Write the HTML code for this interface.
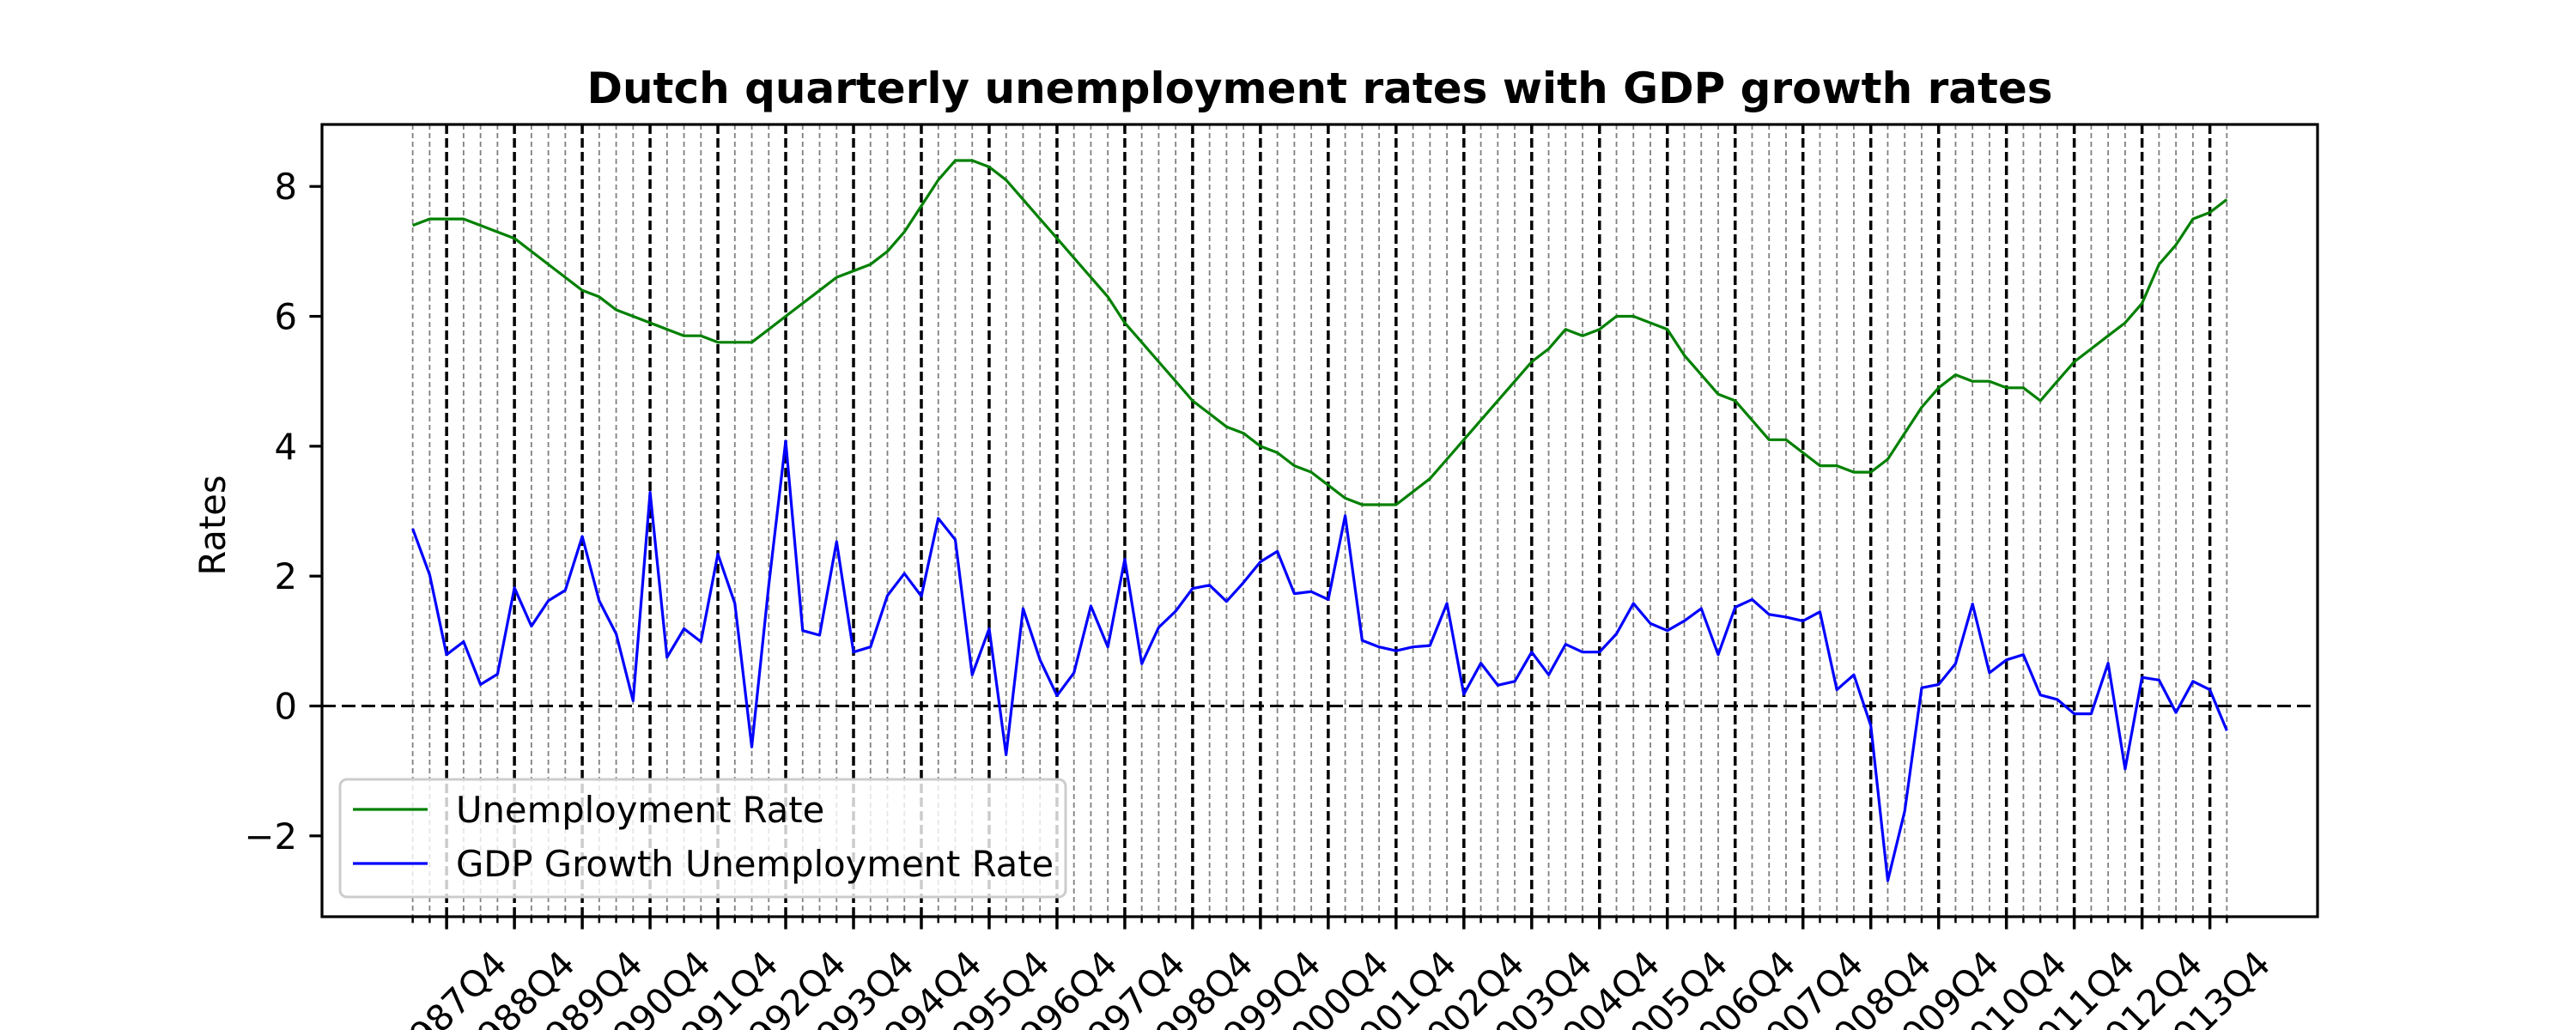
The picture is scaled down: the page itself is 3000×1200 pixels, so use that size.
<!DOCTYPE html>
<html><head><meta charset="utf-8"><style>
html,body{margin:0;padding:0;background:#fff;}
svg{display:block;font-family:"DejaVu Sans","Liberation Sans",sans-serif;}
</style></head><body>
<svg id="chart" width="3000" height="1200" viewBox="0 0 3000 1200" xmlns="http://www.w3.org/2000/svg">
<rect x="0" y="0" width="3000" height="1200" fill="#fff"/>
<text x="1537" y="120" font-size="50" font-weight="bold" text-anchor="middle">Dutch quarterly unemployment rates with GDP growth rates</text>
<text transform="translate(262,612) rotate(-90)" font-size="41.7" text-anchor="middle">Rates</text>
<g id="grid"></g>
<g id="series"></g>
<g id="axes"></g>
<g id="legend"></g>
</svg>
<script>
const startYear = 1987;
const startQuarter = 2;
const q4Labels = ["1987Q4","1988Q4","1989Q4","1990Q4","1991Q4","1992Q4","1993Q4","1994Q4","1995Q4","1996Q4","1997Q4","1998Q4","1999Q4","2000Q4","2001Q4","2002Q4","2003Q4","2004Q4","2005Q4","2006Q4","2007Q4","2008Q4","2009Q4","2010Q4","2011Q4","2012Q4","2013Q4"];
const yTicks = [-2,0,2,4,6,8];
const yTickLabels = ["\u22122","0","2","4","6","8"];
const unemploymentRate = [7.4,7.5,7.5,7.5,7.4,7.3,7.2,7.0,6.8,6.6,6.4,6.3,6.1,6.0,5.9,5.8,5.7,5.7,5.6,5.6,5.6,5.8,6.0,6.2,6.4,
6.6,6.7,6.8,7.0,7.3,7.7,8.1,8.4,8.4,8.3,8.1,7.8,7.5,7.2,6.9,6.6,6.3,5.9,5.6,5.3,5.0,4.7,4.5,4.3,4.2,4.0,3.9,3.7,3.6,3.4,
3.2,3.1,3.1,3.1,3.3,3.5,3.8,4.1,4.4,4.7,5.0,5.3,5.5,5.8,5.7,5.8,6.0,6.0,5.9,5.8,5.4,5.1,4.8,4.7,4.4,4.1,4.1,3.9,3.7,
3.7,3.6,3.6,3.8,4.2,4.6,4.9,5.1,5.0,5.0,4.9,4.9,4.7,5.0,5.3,5.5,5.7,5.9,6.2,6.8,7.1,7.5,7.6,7.8];
const gdpGrowth = [2.73,2.02,0.79,0.99,0.33,0.49,1.82,1.23,1.62,1.78,2.61,1.62,1.11,0.08,3.29,0.75,1.19,0.99,2.34,1.58,-0.63,1.86,4.08,1.16,1.09,
2.53,0.83,0.91,1.70,2.04,1.69,2.89,2.56,0.48,1.19,-0.75,1.50,0.71,0.16,0.51,1.54,0.91,2.26,0.65,1.21,1.46,1.81,1.86,1.61,1.90,2.22,2.38,1.73,1.76,1.64,
2.93,1.01,0.91,0.85,0.91,0.93,1.58,0.18,0.66,0.32,0.38,0.83,0.48,0.95,0.83,0.83,1.11,1.58,1.27,1.16,1.31,1.50,0.79,1.52,1.64,1.41,1.37,1.31,1.45,
0.25,0.48,-0.30,-2.69,-1.62,0.28,0.33,0.65,1.57,0.51,0.71,0.79,0.17,0.10,-0.12,-0.12,0.66,-0.97,0.44,0.40,-0.10,0.38,0.25,-0.38];

const NS = "http://www.w3.org/2000/svg";
const L = 375, R = 2699, T = 145, B = 1068;
const n = unemploymentRate.length;
const quarters = [];
for (let i = 0; i < n; i++) {
  const q = (startQuarter - 1 + i) % 4 + 1;
  const y = startYear + Math.floor((startQuarter - 1 + i) / 4);
  quarters.push(y + "Q" + q);
}
const xmin = -0.05 * (n - 1), xmax = (n - 1) * 1.05;
const allVals = unemploymentRate.concat(gdpGrowth);
const dmin = Math.min(...allVals), dmax = Math.max(...allVals);
const ymin = dmin - 0.05 * (dmax - dmin), ymax = dmax + 0.05 * (dmax - dmin);
function xs(i) { return L + (i - xmin) / (xmax - xmin) * (R - L); }
function ys(v) { return B - (v - ymin) / (ymax - ymin) * (B - T); }
function mk(tag, attrs, parent) {
  const e = document.createElementNS(NS, tag);
  for (const k in attrs) e.setAttribute(k, attrs[k]);
  parent.appendChild(e);
  return e;
}
const grid = document.getElementById("grid");
const series = document.getElementById("series");
const axes = document.getElementById("axes");
const legend = document.getElementById("legend");

quarters.forEach((q, i) => {
  const x = xs(i);
  const isQ4 = q.endsWith("Q4");
  const ln = mk("line", {x1: x, x2: x, y1: T, y2: B,
    stroke: isQ4 ? "#000" : "#808080", "stroke-width": isQ4 ? 3.5 : 1.8,
    "stroke-dasharray": isQ4 ? "11 5" : "6 4"}, grid);
  
  
});
const zl = mk("line", {x1: L, x2: R, y1: ys(0), y2: ys(0), stroke: "#000", "stroke-width": 3, "stroke-dasharray": "16 7"}, grid);



function poly(vals, color, name) {
  const p = mk("polyline", {points: vals.map((v, i) => xs(i).toFixed(1) + "," + ys(v).toFixed(1)).join(" "),
    fill: "none", stroke: color, "stroke-width": 3.2, "stroke-linejoin": "round"}, series);
  
  
}
poly(unemploymentRate, "#008000", "unemployment-line");
poly(gdpGrowth, "#0000ff", "gdp-growth-line");

const fr = mk("rect", {x: L, y: T, width: R - L, height: B - T, fill: "none", stroke: "#000", "stroke-width": 3.2}, axes);



yTicks.forEach((v, k) => {
  const y = ys(v);
  const t = mk("line", {x1: L - 14.6, x2: L, y1: y, y2: y, stroke: "#000", "stroke-width": 3.2}, axes);
  
  
  const tx = mk("text", {x: L - 29, y: y + 15, "font-size": 41.7, "text-anchor": "end"}, axes);
  tx.textContent = yTickLabels[k];
  
  
});
quarters.forEach((q, i) => {
  const x = xs(i);
  const li = q4Labels.indexOf(q);
  const major = li >= 0;
  const t = mk("line", {x1: x, x2: x, y1: B, y2: B + (major ? 14.6 : 7.3), stroke: "#000", "stroke-width": major ? 3.5 : 2.5}, axes);
  
  
  if (major) {
    const tx = mk("text", {transform: "translate(" + (x + 4).toFixed(1) + ",1174) rotate(-45)", "font-size": 41.7,
      "text-anchor": "middle", "dominant-baseline": "central"}, axes);
    tx.textContent = q4Labels[li];
    
    
  }
});

const lb = mk("rect", {x: 396, y: 908, width: 845, height: 137, rx: 8, fill: "#fff", "fill-opacity": 0.8, stroke: "#cccccc", "stroke-width": 3}, legend);


[["Unemployment Rate", "#008000", 943], ["GDP Growth Unemployment Rate", "#0000ff", 1006]].forEach(([label, c, y]) => {
  const l = mk("line", {x1: 411, x2: 498, y1: y, y2: y, stroke: c, "stroke-width": 3.2}, legend);
  
  
  const t = mk("text", {x: 531, y: y + 15, "font-size": 41.7}, legend);
  t.textContent = label;
  
  
});
</script>
</body></html>
